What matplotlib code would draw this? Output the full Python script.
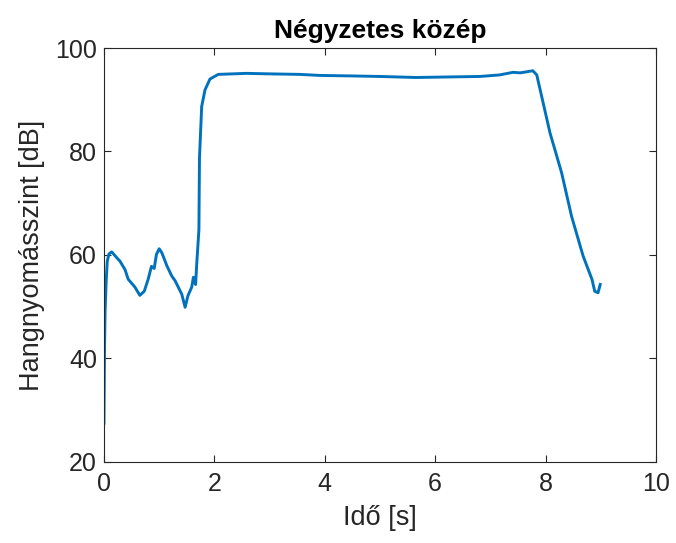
import matplotlib
matplotlib.use("Agg")
import matplotlib.pyplot as plt

# időpontok (s) és hangnyomásszint (dB)
ido = [0.0, 0.01, 0.02, 0.04, 0.06, 0.09, 0.14, 0.23, 0.29, 0.38, 0.44, 0.56,
       0.65, 0.73, 0.80, 0.86, 0.91, 0.95, 1.00, 1.05, 1.14, 1.23, 1.29, 1.41,
       1.47, 1.52, 1.59, 1.62, 1.66, 1.68, 1.72, 1.73, 1.77, 1.83, 1.92, 2.07,
       2.58, 3.0, 3.55, 3.91, 4.5, 5.0, 5.66, 6.2, 6.81, 7.17, 7.41, 7.54,
       7.77, 7.84, 8.08, 8.29, 8.47, 8.68, 8.84, 8.89, 8.95, 8.99]
szint = [27.5, 42.0, 49.0, 55.0, 58.8, 60.2, 60.6, 59.5, 58.8, 57.2, 55.3, 53.8,
         52.2, 53.0, 55.3, 57.8, 57.4, 60.1, 61.2, 60.4, 57.9, 55.9, 55.0, 52.4,
         49.9, 52.1, 53.8, 55.7, 54.3, 58.2, 64.9, 78.7, 88.7, 91.9, 94.0, 94.9,
         95.1, 95.0, 94.9, 94.7, 94.6, 94.5, 94.3, 94.4, 94.5, 94.8, 95.3, 95.2,
         95.6, 94.8, 83.6, 75.9, 67.5, 59.8, 55.3, 53.0, 52.7, 54.3]

plt.rcParams['font.family'] = ['Liberation Sans', 'DejaVu Sans']

fig = plt.figure(figsize=(6.76, 5.43), dpi=100)
ax = fig.add_axes([0.1538, 0.1492, 0.8166, 0.7624])
ax.plot(ido, szint, color='#0072BD', linewidth=2.1)
ax.set_xlim(0, 10)
ax.set_ylim(20, 100)
ax.set_xticks([0, 2, 4, 6, 8, 10])
ax.set_yticks([20, 40, 60, 80, 100])
ax.tick_params(direction='in', top=True, right=True, labelsize=18,
               colors='#262626', length=5, width=0.8, pad=5)
ax.tick_params(axis='x', pad=7)
for s in ax.spines.values():
    s.set_color('#262626')
    s.set_linewidth(0.8)
ax.set_xlabel("Idő [s]", fontsize=19.5, color='#262626', labelpad=7)
ax.set_ylabel("Hangnyomásszint [dB]", fontsize=19.5, color='#262626', labelpad=7)
ax.set_title("Négyzetes közép", fontsize=19, fontweight='bold', pad=7)
fig.savefig("out.png", dpi=100)
